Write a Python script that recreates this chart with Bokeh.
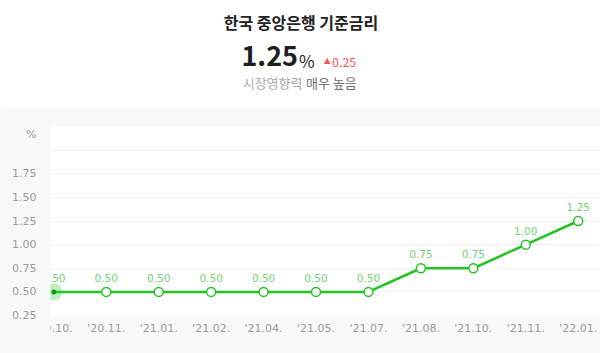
from bokeh.plotting import figure
from bokeh.models import Range1d, FixedTicker, BoxAnnotation, ColumnDataSource, PrintfTickFormatter
from bokeh.layouts import column
from bokeh.core.properties import value
from bokeh.embed import file_html
from bokeh.resources import INLINE

# ---- data ----
title = "한국 중앙은행 기준금리"
subtitle_a = "시장영향력"
subtitle_b = "매우 높음"
months = ["'20.10.", "'20.11.", "'21.01.", "'21.02.", "'21.04.", "'21.05.",
          "'21.07.", "'21.08.", "'21.10.", "'21.11.", "'22.01."]
rates = [0.50, 0.50, 0.50, 0.50, 0.50, 0.50, 0.50, 0.75, 0.75, 1.00, 1.25]
y_ticks = [0.25, 0.50, 0.75, 1.00, 1.25, 1.50, 1.75]
grid_ticks = [0.50, 0.75, 1.00, 1.25, 1.50, 1.75, 2.00]

current = rates[-1]
change = rates[-1] - rates[-2]

KR = "Noto Sans CJK KR"
NUM = "DejaVu Sans"
GREEN = "#22c322"
LABEL_GREEN = "#72d472"
BG = "#f7f8fa"

# ---- header ----
# the column aligns this frame with the chart frame below (left border 50px),
# so the header's x range covers page pixels 50..600
top = figure(width=600, height=107, output_backend="svg", toolbar_location=None,
             x_range=Range1d(50, 600), y_range=Range1d(107, 0),
             x_axis_location=None, y_axis_location=None,
             min_border=0, outline_line_color=None)
top.grid.visible = False
top.background_fill_color = "white"
top.border_fill_color = "white"

top.text(x=[300.5], y=[21.7], text=[title], text_font=value(KR), text_font_size="16px",
         text_font_style="bold", text_color="#222222", text_align="center",
         text_baseline="middle")
top.text(x=[297.5], y=[55.4], text=[f"{current:.2f}"], text_font=value(KR),
         text_font_size="27px", text_font_style="bold", text_color="#1e1e1e",
         text_align="right", text_baseline="middle")
top.text(x=[298.5], y=[59.5], text=["%"], text_font=value(KR), text_font_size="17px",
         text_color="#1e1e1e", text_align="left", text_baseline="middle")
top.scatter(x=[326.7], y=[61.5], marker="triangle", size=7, fill_color="#f55a5a",
            line_color=None)
top.text(x=[331.5], y=[61.2], text=[f"{change:.2f}"], text_font=value(KR),
         text_font_size="12.5px", text_color="#f55a5a", text_align="left",
         text_baseline="middle")
top.text(x=[302], y=[81.7], text=[subtitle_a], text_font=value(KR),
         text_font_size="13px", text_color="#a8a8a8", text_align="right",
         text_baseline="middle")
top.text(x=[305.5], y=[81.7], text=[subtitle_b], text_font=value(KR),
         text_font_size="13px", text_color="#707070", text_align="left",
         text_baseline="middle")

# ---- chart ----
xs = list(range(len(months)))
src = ColumnDataSource(dict(x=xs, y=rates, lab=[f"{r:.2f}" for r in rates],
                            month=months, ly=[0.11] * len(months)))

p = figure(width=600, height=246, output_backend="svg", toolbar_location=None,
           x_range=Range1d(-0.063, 10.425), y_range=Range1d(-0.152, 2.25),
           min_border_left=50, min_border_right=0, min_border_top=19,
           min_border_bottom=0, outline_line_color=None)
p.background_fill_color = BG
p.border_fill_color = BG
p.xaxis.visible = False
p.xgrid.visible = False
p.ygrid.ticker = FixedTicker(ticks=grid_ticks)
p.ygrid.grid_line_color = "#f1f2f4"
p.ygrid.grid_line_width = 1

pct_pos = 2.164
p.yaxis.ticker = FixedTicker(ticks=y_ticks + [pct_pos])
p.yaxis.formatter = PrintfTickFormatter(format="%.2f")
p.yaxis.major_label_overrides = {pct_pos: "%"}
p.yaxis.axis_line_color = None
p.yaxis.major_tick_line_color = None
p.yaxis.minor_tick_line_color = None
p.yaxis.major_label_standoff = 8
p.yaxis.major_label_text_font = NUM
p.yaxis.major_label_text_font_size = "11px"
p.yaxis.major_label_text_color = "#9a9a9a"

# white plotting panel above the 0.25 line (below it: grey date strip)
p.add_layout(BoxAnnotation(bottom=0.25, fill_color="white", fill_alpha=1.0,
                           line_color=None, level="image"))

p.line("x", "y", source=src, line_color=GREEN, line_width=2.5)
p.scatter(x=[xs[0]], y=[rates[0]], size=17, fill_color=GREEN, fill_alpha=0.3,
          line_color=None)
p.scatter(x=xs[1:], y=rates[1:], size=9, fill_color="white", line_color=GREEN,
          line_width=1.5)
p.scatter(x=[xs[0]], y=[rates[0]], size=5, fill_color="#119911", line_color=None)

p.text("x", "y", text="lab", source=src, y_offset=-14, text_font=value(NUM),
       text_font_size="10.5px", text_color=LABEL_GREEN, text_align="center",
       text_baseline="middle")
p.text("x", "ly", text="month", source=src, text_font=value(NUM),
       text_font_size="11px", text_color="#9a9a9a", text_align="center",
       text_baseline="middle")

layout = column(top, p, spacing=0)
open("out.html", "w").write(file_html(layout, INLINE))
